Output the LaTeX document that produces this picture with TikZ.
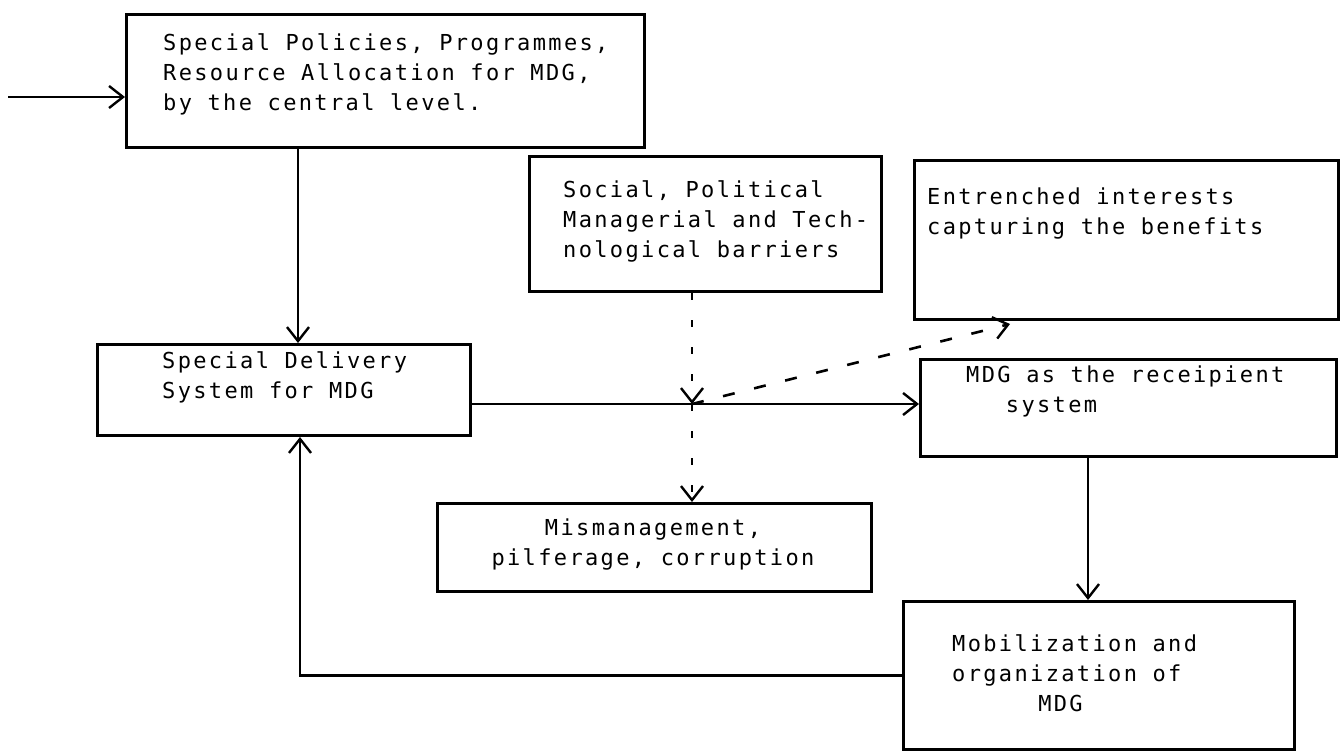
\documentclass[tikz,border=0pt]{standalone}
\usepackage{fontspec}
\usetikzlibrary{arrows.meta,calc}
\newfontfamily\tw{DejaVu Sans Mono}[LetterSpace=10.7]
\newcommand\twsize{\tw\fontsize{22}{30}\selectfont}
\newlength\cw
\begin{document}
\settowidth\cw{\twsize x}
\begin{tikzpicture}[x=1pt,y=-1pt,
  box/.style={draw, line width=3pt, inner sep=0pt, anchor=north west},
  txt/.style={font=\twsize, inner sep=0pt, align=left},
  arr/.style={line width=2.6pt, -{Straight Barb[length=14pt,width=22pt,line width=2.4pt]}},
  dotline/.style={dash pattern=on 7pt off 20pt},
  dashline/.style={dash pattern=on 12pt off 20pt}
]
\useasboundingbox (0,0) rectangle (1340,751);
% boxes
\node[box, minimum width=518pt, minimum height=133pt] (pol) at (125,13) {};
\node[box, minimum width=352pt, minimum height=135pt] (soc) at (528,155) {};
\node[box, minimum width=424pt, minimum height=159pt] (ent) at (913,159) {};
\node[box, minimum width=373pt, minimum height=91pt] (del) at (96,343) {};
\node[box, minimum width=416pt, minimum height=97pt] (mdg) at (919,358) {};
\node[box, minimum width=434pt, minimum height=88pt] (mis) at (436,502) {};
\node[box, minimum width=391pt, minimum height=148pt] (mob) at (902,600) {};
% texts
\node[txt, anchor=west] (polt) at (163,74) {Special Policies, Programmes,\\Resource Allocation for MDG,\\by the central level.};
\node[txt, anchor=west] (soct) at (563,221) {Social, Political\\Managerial and Tech-\\nological barriers};
\node[txt, anchor=north west] (entt) at (927,188) {Entrenched interests\\capturing the benefits};
\node[txt, anchor=west] (delt) at (162,377) {Special Delivery\\System for MDG};
\node[txt, anchor=north west] (mdgt) at (966,366) {MDG as the receipient\\\hspace*{3\cw}system};
\node[txt, align=center] (mist) at (653,545) {Mismanagement,\\pilferage, corruption};
\node[txt, anchor=west] (mobt) at (952,673) {Mobilization and\\organization of\\\hspace*{6.5\cw}MDG};
% helper coordinates
\coordinate (in) at (8,97);
\coordinate (a1) at (298,0);
\coordinate (fb) at (300,0);
\coordinate (j) at (692,404);
\coordinate (e1) at (1010,0);
\coordinate (m1) at (1088,0);
% connectors
\draw[arr] (in) -- (in -| pol.west);
\draw[arr] (a1 |- pol.south) -- (a1 |- del.north);
\draw[arr] (j -| del.east) -- (j -| mdg.west);
\draw[arr, dotline] (j |- soc.south) -- (j);
\draw[arr, dotline] (j) -- (j |- mis.north);
\draw[arr, dashline] (j) -- ($(e1 |- ent.south)+(0,3)$);
\draw[arr] (m1 |- mdg.south) -- (m1 |- mob.north);
\draw[arr] (mob.west) -- (fb |- mob.west) -- (fb |- del.south);
\end{tikzpicture}
\end{document}
